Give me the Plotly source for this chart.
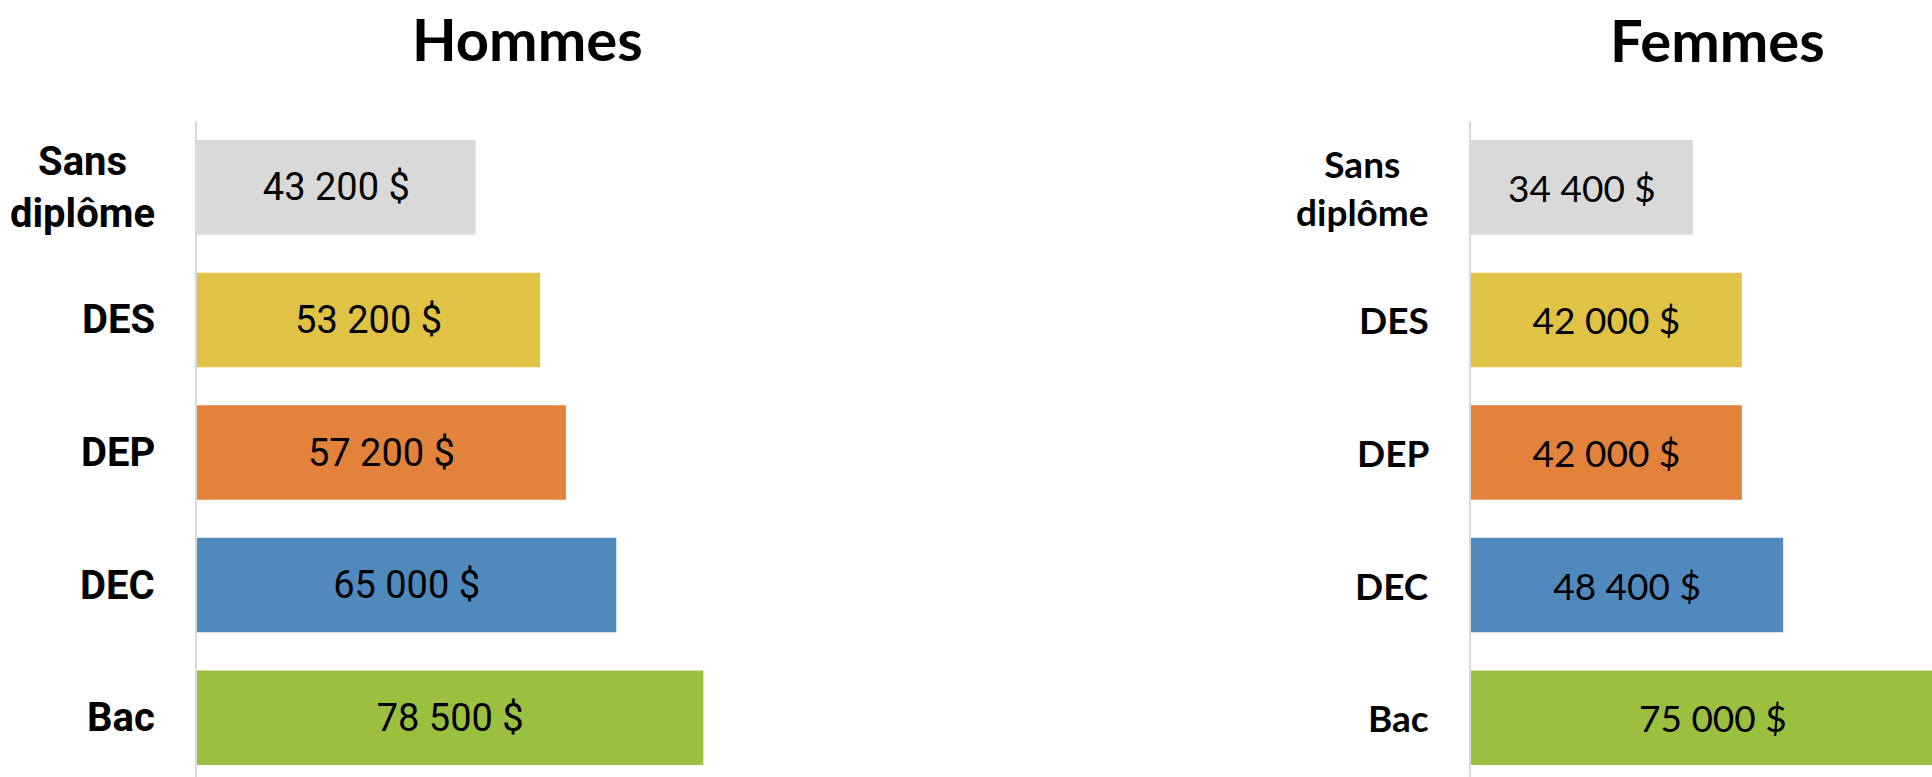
import plotly.graph_objects as go
from plotly.subplots import make_subplots

# Données
categories = ["Sans diplôme", "DES", "DEP", "DEC", "Bac"]
labels = ["Sans<br>diplôme", "DES", "DEP", "DEC", "Bac"]
hommes = [43200, 53200, 57200, 65000, 78500]
femmes = [34400, 42000, 42000, 48400, 75000]
colors = ["#d9d9d9", "#e0c244", "#e3823a", "#4f89be", "#9bbf3e"]


def fmt(v):
    return f"{v:,}".replace(",", " ") + " $"


NARROW = "Roboto, Liberation Sans, sans-serif"
CAL = "Lato, Open Sans, sans-serif"

W, H = 1932, 777
TOP = 121
ax_l, ax_r = 197, 1471
px_per = 0.00645

fig = make_subplots(rows=1, cols=2)

fig.add_trace(go.Bar(
    y=categories, x=hommes, orientation="h",
    marker=dict(color=colors, line_width=0),
    text=[fmt(v) for v in hommes], textposition="inside",
    insidetextanchor="middle", textangle=0,
    textfont=dict(family=NARROW, size=38, color="black"),
    hoverinfo="skip",
), row=1, col=1)

fig.add_trace(go.Bar(
    y=categories, x=femmes, orientation="h",
    marker=dict(color=colors, line_width=0),
    text=[fmt(v) for v in femmes], textposition="inside",
    insidetextanchor="middle", textangle=0,
    textfont=dict(family=CAL, size=37, color="black"),
    hoverinfo="skip",
), row=1, col=2)

band = 132.6
yax = dict(
    categoryorder="array", categoryarray=categories,
    range=[-0.5 + (H - TOP) / band, -0.5], showticklabels=False, ticks="",
    showline=True, linecolor="#d9d9d9", linewidth=2,
    showgrid=False, zeroline=False, fixedrange=True,
)
fig.update_layout(
    yaxis=yax, yaxis2=yax,
    xaxis=dict(domain=[ax_l / W, (ax_l + 100000 * px_per) / W], range=[0, 100000], visible=False),
    xaxis2=dict(domain=[ax_r / W, 1.0], range=[0, (W - ax_r) / px_per], visible=False),
)

# étiquettes de catégories
for i, lab in enumerate(labels):
    fig.add_annotation(
        x=ax_l / W, xref="paper", y=categories[i], yref="y",
        xanchor="right", xshift=-40, align="center", showarrow=False,
        text=f"<b>{lab}</b>", font=dict(family=NARROW, size=40, color="black"),
    )
    fig.add_annotation(
        x=ax_r / W, xref="paper", y=categories[i], yref="y2",
        xanchor="right", xshift=-40, align="center", showarrow=False,
        text=f"<b>{lab}</b>", font=dict(family=CAL, size=37, color="black"),
    )

fig.add_annotation(x=527 / W, xref="paper", y=1.1255, yref="paper",
                   text="<b>Hommes</b>", showarrow=False, xanchor="center", yanchor="middle",
                   font=dict(family=CAL, size=58, color="black"))
fig.add_annotation(x=1717 / W, xref="paper", y=1.1235, yref="paper",
                   text="<b>Femmes</b>", showarrow=False, xanchor="center", yanchor="middle",
                   font=dict(family=CAL, size=58, color="black"))

fig.update_layout(
    width=W, height=H,
    margin=dict(l=0, r=0, t=TOP, b=0),
    bargap=0.287,
    showlegend=False,
    plot_bgcolor="white", paper_bgcolor="white",
)

# pas de marge de page autour de la figure
fig.write_html("out.html", config={"displayModeBar": False},
               post_script="document.body.style.margin='0';")
